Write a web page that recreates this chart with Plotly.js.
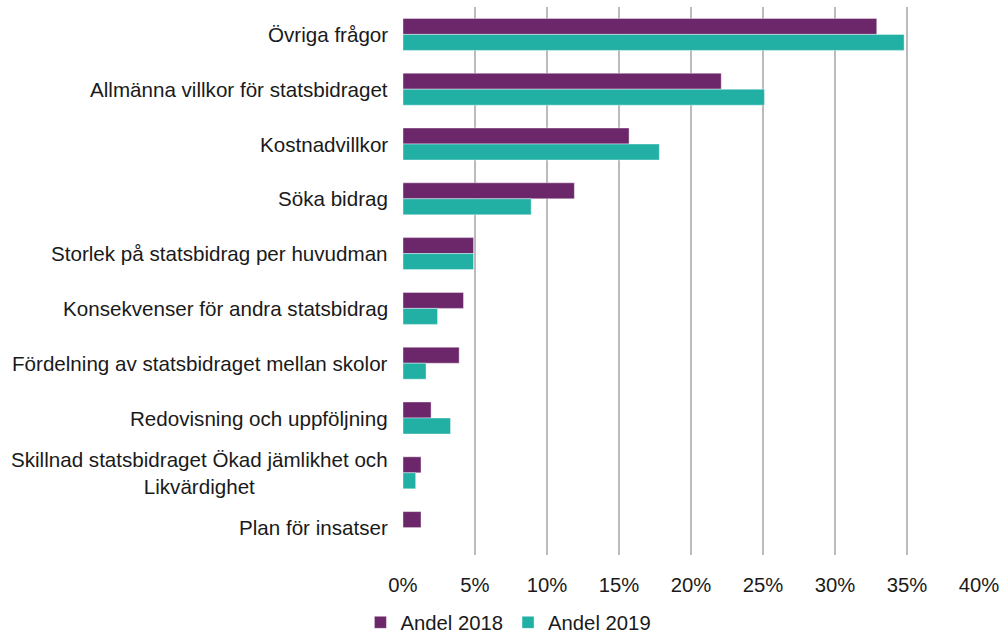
<!DOCTYPE html>
<html>
<head>
<meta charset="utf-8">
<script src="https://cdn.plot.ly/plotly-3.0.1.min.js"></script>
<style>html,body{margin:0;padding:0;background:#fff;}#chart{width:1000px;height:636px;}</style>
</head>
<body>
<div id="chart"></div>
<script>
var categories = [
  "Övriga frågor",
  "Allmänna villkor för statsbidraget",
  "Kostnadvillkor",
  "Söka bidrag",
  "Storlek på statsbidrag per huvudman",
  "Konsekvenser för andra statsbidrag",
  "Fördelning av statsbidraget mellan skolor",
  "Redovisning och uppföljning",
  "Skillnad statsbidraget Ökad jämlikhet och<br>Likvärdighet",
  "Plan för insatser"
];
var andel2018 = [0.329, 0.221, 0.157, 0.119, 0.049, 0.042, 0.039, 0.0195, 0.0125, 0.0125];
var andel2019 = [0.348, 0.251, 0.178, 0.089, 0.049, 0.024, 0.016, 0.033, 0.0088, 0];
var seriesNames = ["Andel 2018", "Andel 2019"];
var colors = ["#6B2769", "#22B0A5"];
var xTicks = [0, 0.05, 0.10, 0.15, 0.20, 0.25, 0.30, 0.35, 0.40];

var font = "Liberation Sans, Arial, sans-serif";
var txtColor = "#1a1a1a";
var traces = [andel2018, andel2019].map(function(vals, i){
  return {
    type: "bar", orientation: "h",
    x: vals, y: categories, name: seriesNames[i],
    marker: {color: colors[i], line: {color: "rgba(255,255,255,0.5)", width: 0.8}},
    hoverinfo: "x+name"
  };
});

var annotations = categories.map(function(c){
  return {
    xref: "paper", yref: "y", x: -0.023, y: c, text: c,
    xanchor: "right", yanchor: "middle", align: "center", showarrow: false,
    font: {family: font, size: 20.6, color: txtColor}
  };
});

var layout = {
  width: 1000, height: 636,
  margin: {l: 403, r: 21, t: 7, b: 81, autoexpand: false},
  paper_bgcolor: "#fff", plot_bgcolor: "#fff",
  barmode: "group", bargap: 0.416, bargroupgap: 0,
  font: {family: font, size: 20, color: txtColor},
  xaxis: {
    range: [0, 0.40], tickvals: xTicks, tickformat: ".0%",
    showgrid: true, gridcolor: "#BBBBBB", gridwidth: 2,
    zeroline: false, showline: false, ticks: "",
    ticklabelstandoff: 16, automargin: false,
    tickfont: {family: font, size: 20.3, color: txtColor}
  },
  yaxis: {
    type: "category", autorange: "reversed",
    showticklabels: false, ticks: "", showgrid: false, zeroline: false,
    showline: false, automargin: false
  },
  annotations: annotations,
  showlegend: true,
  legend: {
    orientation: "h", x: 0.183, xanchor: "center",
    yref: "container", y: 0.021, yanchor: "middle",
    font: {family: font, size: 20.3, color: txtColor},
    itemwidth: 30, traceorder: "normal"
  }
};

Plotly.newPlot("chart", traces, layout, {displayModeBar: false, staticPlot: true});
</script>
</body>
</html>
